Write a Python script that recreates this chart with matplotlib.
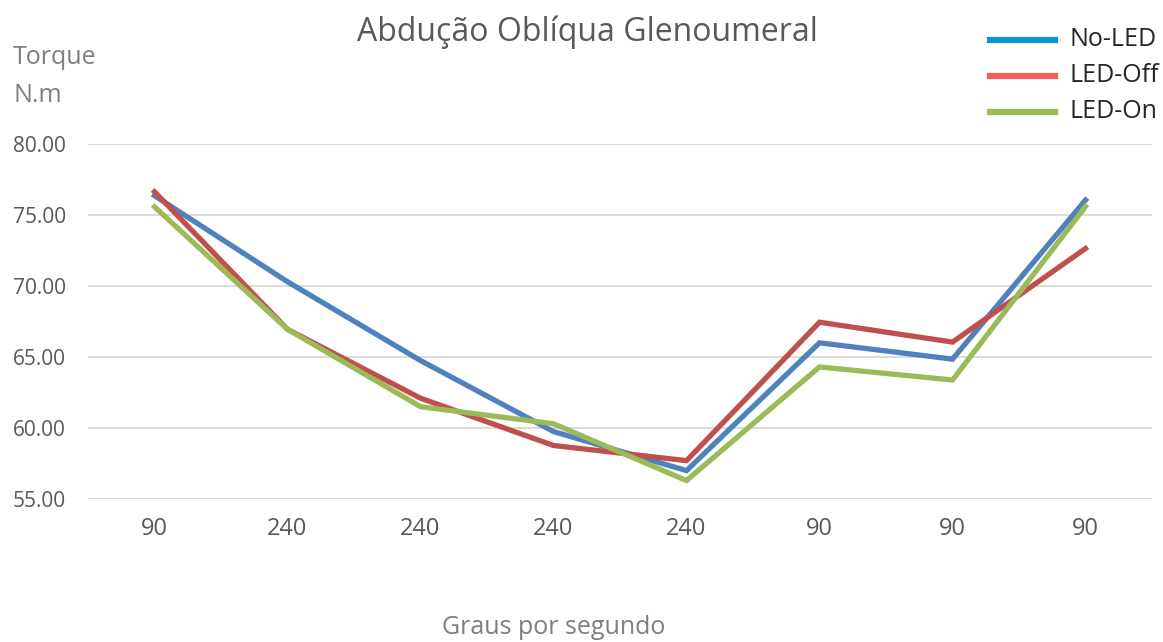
import matplotlib.pyplot as plt
from matplotlib.lines import Line2D

plt.rcParams['font.family'] = ['Open Sans', 'DejaVu Sans']

# categories (speed in degrees per second) and torque series
speeds = ['90', '240', '240', '240', '240', '90', '90', '90']
no_led = [76.36, 70.3, 64.75, 59.75, 57.0, 66.0, 64.85, 76.05]
led_off = [76.64, 66.95, 62.1, 58.77, 57.7, 67.45, 66.05, 72.64]
led_on = [75.58, 66.95, 61.5, 60.3, 56.3, 64.3, 63.38, 75.6]

series_names = ['No-LED', 'LED-Off', 'LED-On']
line_colors = ['#4F81BD', '#C0504D', '#9BBB59']
legend_colors = ['#0A95D9', '#F0605E', '#9BBB59']

W, H = 1163, 642
fig = plt.figure(figsize=(W / 100, H / 100), dpi=100)
ax = fig.add_axes([88 / W, 1 - 499 / H, 1064 / W, 355 / H])

x = range(len(speeds))
for vals, c in zip([no_led, led_off, led_on], line_colors):
    ax.plot(x, vals, color=c, lw=3.8, solid_joinstyle='miter', zorder=3)

ax.set_xlim(-0.5, len(speeds) - 0.5)
ax.set_ylim(55, 80)
ax.set_yticks([55, 60, 65, 70, 75, 80])
ax.set_yticklabels(['%.2f' % v for v in [55, 60, 65, 70, 75, 80]])
ax.set_xticks(list(x))
ax.set_xticklabels(speeds)
ax.grid(axis='y', color='#D9D9D9', lw=1.3)
ax.set_axisbelow(True)
for s in ax.spines.values():
    s.set_visible(False)
ax.tick_params(axis='y', length=0, pad=16, labelsize=15, labelcolor='#595959')
ax.tick_params(axis='x', length=0, pad=13, labelsize=17, labelcolor='#595959')

fig.text(587 / W, 1 - 32 / H, 'Abdução Oblíqua Glenoumeral', ha='center', va='center',
         fontsize=23, color='#595959')
fig.text(13 / W, 1 - 57 / H, 'Torque', ha='left', va='center', fontsize=18, color='#7F7F7F')
fig.text(13 / W, 1 - 95 / H, 'N.m', ha='left', va='center', fontsize=18, color='#7F7F7F')
fig.text(554 / W, 1 - 628 / H, 'Graus por segundo', ha='center', va='center',
         fontsize=18, color='#7F7F7F')

# legend drawn by hand at the top right
for i, (name, c) in enumerate(zip(series_names, legend_colors)):
    y = 1 - (40 + 36 * i) / H
    fig.add_artist(Line2D([990 / W, 1055 / W], [y, y], color=c, lw=4.5,
                          transform=fig.transFigure))
    fig.text(1069 / W, y, name, ha='left', va='center', fontsize=18, color='#262626')

fig.savefig('out.png', dpi=100)
